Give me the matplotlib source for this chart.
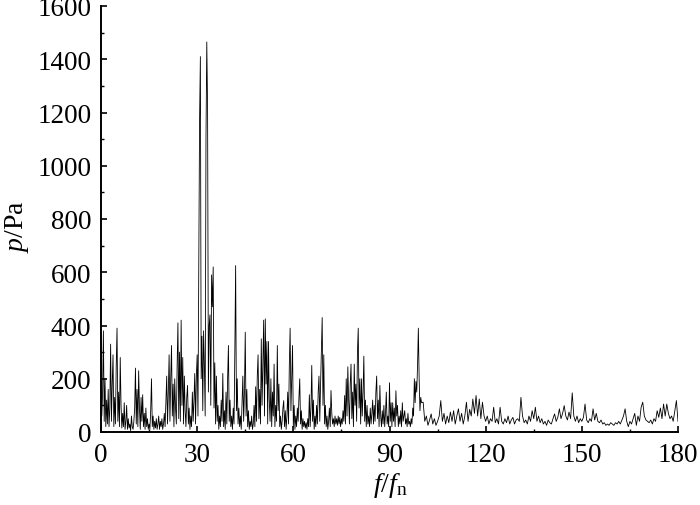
import numpy as np
import matplotlib
matplotlib.use("Agg")
import matplotlib.pyplot as plt
from matplotlib.ticker import MultipleLocator

plt.rcParams['font.family'] = ['Liberation Serif', 'DejaVu Serif']
plt.rcParams['mathtext.fontset'] = 'custom'
plt.rcParams['mathtext.rm'] = 'Liberation Serif'
plt.rcParams['mathtext.it'] = 'Liberation Serif:italic'

# f/fn from 0 to 99.75, step 0.25 (dense part of the spectrum)
freq_low = np.arange(0, 100, 0.25)
p_low = [
    370, 60, 150, 380, 40, 200, 20, 120, 30, 160, 20, 90, 330, 40, 180, 290, 20, 130, 30, 250,
    390, 40, 150, 20, 280, 100, 15, 70, 20, 110, 10, 40, 100, 10, 50, 15, 30, 5, 60, 20,
    10, 40, 90, 240, 30, 160, 20, 230, 90, 10, 130, 40, 140, 20, 70, 10, 90, 20, 50, 10,
    30, 10, 80, 200, 20, 60, 10, 40, 15, 50, 10, 30, 60, 10, 40, 20, 50, 10, 30, 70,
    20, 120, 210, 30, 150, 290, 40, 200, 325, 60, 180, 20, 200, 90, 30, 250, 410, 50, 300, 40,
    420, 100, 280, 30, 210, 80, 20, 130, 175, 30, 90, 10, 60, 20, 150, 40, 120, 220, 30, 210,
    290, 60, 640, 1170, 1410, 200, 360, 80, 380, 250, 60, 1100, 1465, 1215, 150, 400, 440, 100, 590, 470,
    620, 90, 260, 30, 210, 40, 100, 10, 60, 20, 120, 40, 220, 20, 80, 10, 150, 30, 200, 325,
    40, 120, 20, 60, 10, 90, 30, 300, 625, 80, 200, 30, 90, 20, 60, 10, 110, 210, 40, 150,
    375, 60, 160, 20, 80, 10, 40, 20, 60, 10, 30, 100, 20, 170, 40, 210, 290, 50, 160, 30,
    350, 100, 250, 420, 60, 425, 180, 340, 30, 340, 120, 40, 200, 20, 150, 60, 255, 20, 100, 40,
    325, 80, 180, 20, 60, 10, 40, 90, 118, 20, 80, 10, 60, 150, 30, 250, 390, 80, 200, 325,
    20, 100, 10, 60, 20, 90, 40, 130, 200, 30, 80, 10, 50, 20, 40, 15, 35, 10, 50, 20,
    140, 20, 90, 250, 40, 120, 10, 60, 20, 100, 30, 150, 210, 40, 180, 300, 430, 100, 290, 30,
    100, 20, 60, 10, 40, 90, 20, 156, 70, 30, 50, 20, 60, 30, 50, 25, 60, 30, 55, 20,
    50, 30, 80, 40, 137, 30, 200, 60, 245, 120, 30, 180, 255, 50, 150, 20, 255, 100, 180, 40,
    300, 390, 90, 200, 30, 200, 60, 150, 285, 40, 120, 20, 100, 30, 60, 20, 90, 30, 70, 120,
    30, 100, 40, 150, 210, 50, 120, 20, 175, 60, 20, 80, 30, 100, 20, 70, 150, 30, 60, 20,
    185, 40, 110, 20, 110, 40, 90, 20, 155, 60, 100, 20, 60, 30, 80, 20, 110, 40, 60, 80,
    30, 50, 20, 70, 30, 40, 20, 50, 30, 90, 60, 200, 110, 190, 150, 250, 390, 200, 80, 130,
]

# f/fn from 100 to 180, step 0.5
freq_high = np.arange(100, 180.01, 0.5)
p_high = [
    110, 112, 40, 60, 25, 45, 68, 30, 50, 25,
    40, 60, 118, 40, 70, 30, 60, 35, 75, 40,
    80, 30, 60, 87, 40, 70, 30, 60, 112, 40,
    85, 60, 124, 70, 137, 60, 124, 50, 112, 60,
    40, 60, 30, 50, 40, 93, 35, 50, 30, 93,
    40, 30, 50, 35, 60, 30, 45, 55, 30, 45,
    50, 40, 130, 60, 35, 45, 30, 60, 40, 80,
    50, 93, 40, 60, 35, 50, 30, 40, 25, 45,
    35, 30, 50, 68, 40, 55, 87, 50, 70, 99,
    60, 45, 75, 50, 147, 60, 40, 60, 35, 50,
    40, 55, 105, 45, 35, 50, 40, 87, 45, 70,
    40, 35, 45, 30, 35, 25, 30, 25, 35, 30,
    25, 35, 30, 40, 30, 45, 60, 87, 40, 20,
    40, 30, 50, 70, 25, 60, 40, 93, 112, 60,
    45, 40, 35, 45, 30, 50, 40, 80, 55, 90,
    50, 105, 60, 105, 70, 50, 60, 40, 80, 118, 40,
]

freq = np.concatenate([freq_low, freq_high])
pressure = np.array(p_low + p_high, dtype=float)

fig = plt.figure(figsize=(7.0, 5.06), dpi=100)
ax = fig.add_axes([101/700, 1 - 433/506, 577/700, 426/506])

ax.plot(freq, pressure, color='black', lw=0.6)

ax.set_xlim(0, 180)
ax.set_ylim(0, 1600)
ax.xaxis.set_major_locator(MultipleLocator(30))
ax.xaxis.set_minor_locator(MultipleLocator(15))
ax.yaxis.set_major_locator(MultipleLocator(200))
ax.yaxis.set_minor_locator(MultipleLocator(100))

for s in ['top', 'right']:
    ax.spines[s].set_visible(False)
for s in ['left', 'bottom']:
    ax.spines[s].set_linewidth(1.4)

ax.tick_params(which='major', direction='in', length=4.5, width=1.2, labelsize=19.5)
ax.tick_params(which='minor', direction='in', length=2.5, width=1.0)
ax.tick_params(axis='x', pad=7)
ax.tick_params(axis='y', pad=7)

fig.text(17/700, 1 - 227/506, r'$p$/Pa', rotation=90, ha='center', va='center', fontsize=20)
fig.text(390/700, 1 - 486/506, r'$f/f_{\mathrm{n}}$', ha='center', va='center', fontsize=20)

fig.savefig('out.png', dpi=100)
